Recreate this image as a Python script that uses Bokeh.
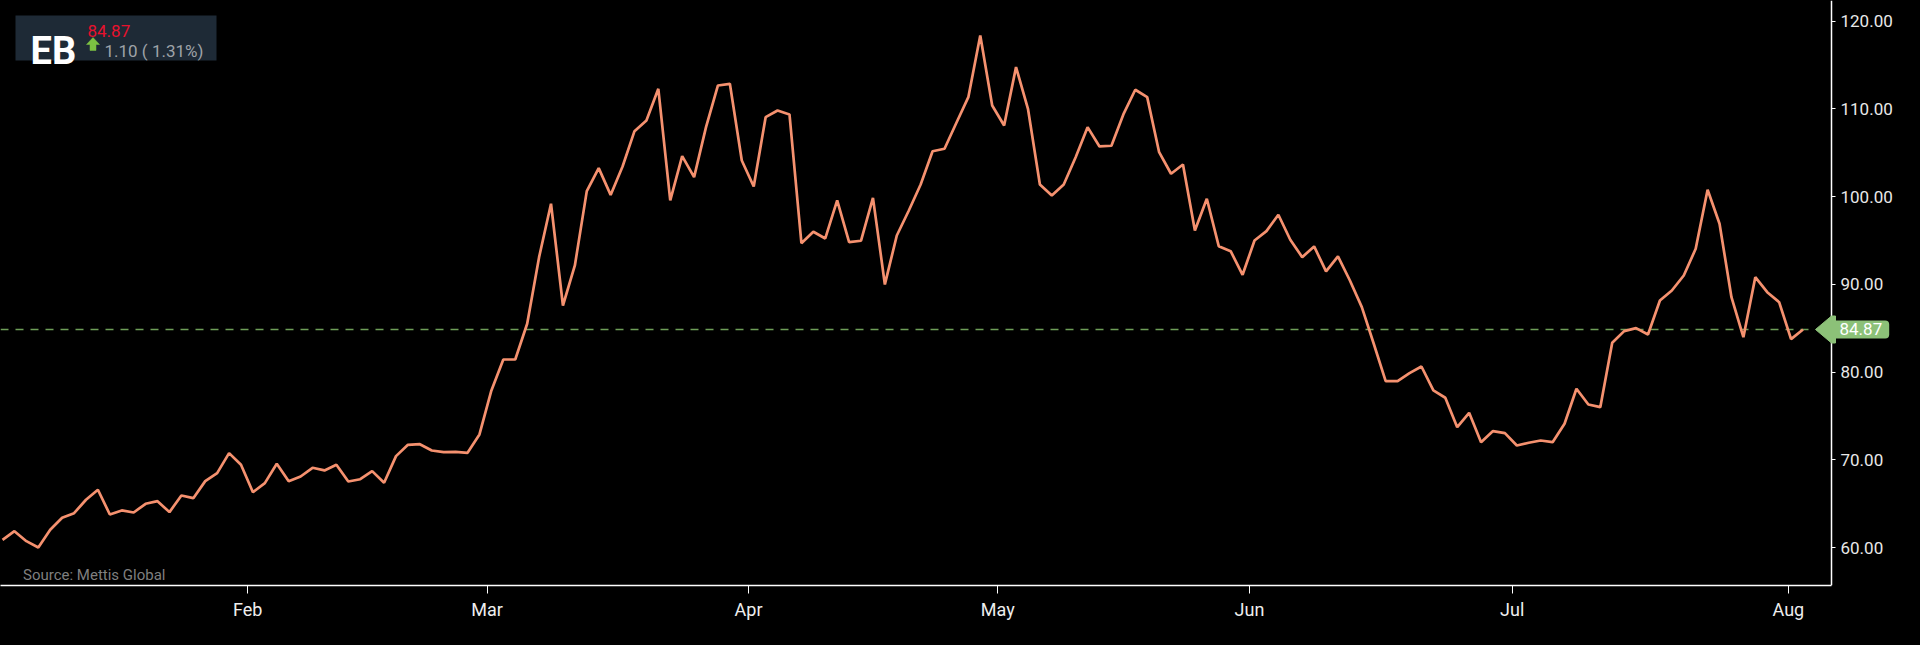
from bokeh.plotting import figure
from bokeh.models import (Range1d, FixedTicker, Label, NumeralTickFormatter,
                          BoxAnnotation, GlobalInlineStyleSheet)
from bokeh.embed import file_html
from bokeh.resources import INLINE

# ---------------- data ----------------
ticker_name = "EB"
last_price = 84.87
change_abs = 1.10
change_pct = 1.31
source_text = "Source: Mettis Global"

prices = [
    60.90, 61.89, 60.75, 60.03, 62.05, 63.42, 63.94, 65.47, 66.61, 63.79,
    64.25, 64.02, 65.01, 65.31, 64.06, 65.96, 65.65, 67.59, 68.50, 70.78,
    69.45, 66.33, 67.36, 69.57, 67.59, 68.12, 69.11, 68.81, 69.45, 67.55,
    67.81, 68.73, 67.40, 70.44, 71.73, 71.80, 71.08, 70.89, 70.93, 70.82,
    72.91, 77.92, 81.45, 81.45, 85.52, 93.11, 99.19, 87.60, 92.16, 100.63,
    103.25, 100.20, 103.44, 107.46, 108.68, 112.29, 99.57, 104.61, 102.22, 107.92,
    112.67, 112.86, 104.12, 101.16, 109.06, 109.82, 109.37, 94.70, 96.00, 95.24,
    99.57, 94.82, 94.98, 99.87, 90.00, 95.58, 98.40, 101.39, 105.18, 105.46,
    108.42, 111.34, 118.37, 110.39, 108.11, 114.76, 110.01, 101.39, 100.14, 101.39,
    104.50, 107.92, 105.72, 105.80, 109.37, 112.18, 111.34, 105.07, 102.61, 103.67,
    96.15, 99.76, 94.36, 93.79, 91.10, 95.01, 96.07, 97.94, 95.09, 93.11,
    94.33, 91.48, 93.19, 90.45, 87.41, 83.24, 78.98, 78.98, 79.89, 80.65,
    77.92, 77.09, 73.74, 75.38, 72.03, 73.29, 73.06, 71.65, 71.96, 72.22,
    72.03, 74.13, 78.11, 76.32, 76.02, 83.35, 84.68, 85.02, 84.30, 88.17,
    89.31, 91.02, 94.06, 100.79, 96.91, 88.55, 83.99, 90.83, 89.12, 87.98,
    83.77, 84.87,
]
session_index = list(range(len(prices)))

month_labels = ["Feb", "Mar", "Apr", "May", "Jun", "Jul", "Aug"]
month_ticks = [20.56, 40.64, 62.57, 83.47, 104.58, 126.61, 149.77]
price_ticks = [60, 70, 80, 90, 100, 110, 120]

# ---------------- layout ----------------
W, H = 1904, 629
FH = 585                      # frame height
AXIS_PX = 1831                # x pixel of the price axis
x0 = -0.17
X_PER_PX = (153.39 - x0) / AXIS_PX
x1 = x0 + W * X_PER_PX
y0, y1 = 55.70, 122.35


def px_x(px):
    return x0 + px * X_PER_PX


def px_y(py):
    return y1 - py * (y1 - y0) / FH


FONT = "Roboto"

p = figure(width=W, height=H, output_backend="svg", toolbar_location=None,
           x_range=Range1d(x0, x1), y_range=Range1d(y0, y1),
           y_axis_location="right",
           min_border_left=0, min_border_top=0,
           min_border_right=0, min_border_bottom=H - FH)
p.stylesheets = [GlobalInlineStyleSheet(css="html, body { background: #000000; margin: 0; }")]

p.background_fill_color = "#000000"
p.border_fill_color = "#000000"
p.outline_line_color = None
p.xgrid.grid_line_color = None
p.ygrid.grid_line_color = None

# x axis
xa = p.xaxis[0]
xa.ticker = FixedTicker(ticks=month_ticks)
xa.major_label_overrides = {t: l for t, l in zip(month_ticks, month_labels)}
xa.bounds = (x0, px_x(AXIS_PX))
xa.axis_line_color = "#ffffff"
xa.axis_line_width = 1.5
xa.major_tick_line_color = "#ffffff"
xa.major_tick_in = 0
xa.major_tick_out = 8
xa.minor_tick_line_color = None
xa.major_label_text_color = "#eeeeee"
xa.major_label_text_font = FONT
xa.major_label_text_font_size = "18px"
xa.major_label_standoff = 5

# y axis (price scale), drawn at a fixed spot so the price tag can overlap it
ya = p.yaxis[0]
ya.fixed_location = px_x(AXIS_PX)
ya.ticker = FixedTicker(ticks=price_ticks)
ya.formatter = NumeralTickFormatter(format="0.00")
ya.axis_line_color = "#ffffff"
ya.axis_line_width = 1.5
ya.major_tick_line_color = "#ffffff"
ya.major_tick_in = 0
ya.major_tick_out = 4
ya.minor_tick_line_color = None
ya.major_label_text_color = "#e8e8e8"
ya.major_label_text_font = FONT
ya.major_label_text_font_size = "17px"
ya.major_label_standoff = 5

TAG = "#8cc178"

# last price dashed line up to the tag
p.segment(x0=[x0], y0=[last_price], x1=[px_x(1815)], y1=[last_price],
          line_color="#6e9e58", line_dash="8 7", line_width=1.5, level="underlay")

# price line
p.line(session_index, prices, line_color="#f5916f", line_width=2.7)

# price tag (arrow tip + body)
tip = p.patch([px_x(1815), px_x(1831), px_x(1835), px_x(1835), px_x(1831)],
              [last_price, px_y(315.5), px_y(315.5), px_y(342.5), px_y(342.5)],
              fill_color=TAG, line_color=TAG, line_width=1)
tip.level = "overlay"
p.add_layout(Label(x=px_x(1830), y=last_price, text=f"{last_price:.2f}",
                   text_align="left", text_baseline="middle",
                   text_font=FONT, text_font_size="17px", text_color="#ffffff",
                   background_fill_color=TAG, background_fill_alpha=1.0,
                   padding=dict(left=9, right=7, top=3, bottom=3),
                   border_radius=(0, 4, 4, 0)))

# header box
p.add_layout(BoxAnnotation(left=px_x(15), right=px_x(216), top=px_y(15), bottom=px_y(60),
                           fill_color="#1e2a36", fill_alpha=1.0, line_color=None))
p.add_layout(Label(x=px_x(30), y=px_y(50), text=ticker_name, text_align="left",
                   text_baseline="alphabetic", text_font=FONT, text_font_style="bold",
                   text_font_size="38px", text_color="#ffffff"))
p.add_layout(Label(x=px_x(87), y=px_y(30), text=f"{last_price:.2f}", text_align="left",
                   text_baseline="alphabetic", text_font=FONT,
                   text_font_size="17px", text_color="#e8112d"))
# up arrow icon
ARW = "#7cc242"
arrow = p.patch([px_x(86), px_x(92.5), px_x(99), px_x(95.5), px_x(95.5), px_x(89.5), px_x(89.5)],
                [px_y(44), px_y(37), px_y(44), px_y(44), px_y(50), px_y(50), px_y(44)],
                fill_color=ARW, line_color=ARW, line_width=0.5)
arrow.level = "overlay"
p.add_layout(Label(x=px_x(104), y=px_y(50), text=f"{change_abs:.2f} ( {change_pct:.2f}%)",
                   text_align="left", text_baseline="alphabetic", text_font=FONT,
                   text_font_size="17px", text_color="#9ea3a8"))

# source note
p.add_layout(Label(x=px_x(22.5), y=px_y(574), text=source_text, text_align="left",
                   text_baseline="alphabetic", text_font=FONT,
                   text_font_size="15px", text_color="#7f7f7f"))

open("out.html", "w").write(file_html(p, INLINE))
